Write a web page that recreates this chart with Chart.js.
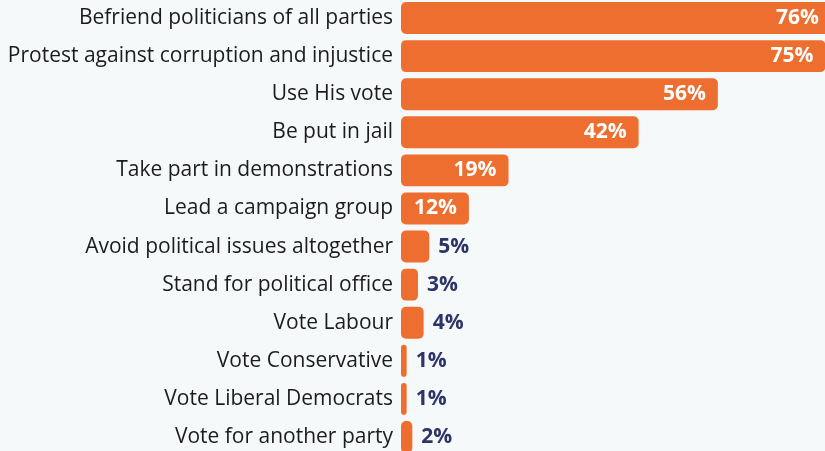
<!DOCTYPE html>
<html lang="en">
<head>
    <meta charset="UTF-8">
    <title>Political activities</title>
    <script src="https://cdn.jsdelivr.net/npm/chart.js"></script>
    <style>
        html, body {
            margin: 0;
            padding: 0;
            background: #f5f9fa;
            overflow: hidden;
        }
        #wrap {
            position: relative;
            width: 831px;
            height: 457px;
            margin-top: -1px;
        }
    </style>
</head>
<body>
    <div id="wrap"><canvas id="barChart"></canvas></div>

    <script>
        const categories = [
            "Befriend politicians of all parties",
            "Protest against corruption and injustice",
            "Use His vote",
            "Be put in jail",
            "Take part in demonstrations",
            "Lead a campaign group",
            "Avoid political issues altogether",
            "Stand for political office",
            "Vote Labour",
            "Vote Conservative",
            "Vote Liberal Democrats",
            "Vote for another party"
        ];
        const percentages = [76, 75, 56, 42, 19, 12, 5, 3, 4, 1, 1, 2];

        const barColor = "#ee6e2f";
        const textColor = "#1c1c1c";
        const insideColor = "#ffffff";
        const outsideColor = "#2d3468";

        // category names to the left of the bars, value labels on them
        const barLabels = {
            id: "barLabels",
            afterDatasetsDraw(chart) {
                const ctx = chart.ctx;
                const meta = chart.getDatasetMeta(0);
                const left = chart.chartArea.left;
                ctx.save();
                ctx.textBaseline = "middle";
                meta.data.forEach((bar, i) => {
                    ctx.font = "21px 'Open Sans', sans-serif";
                    ctx.fillStyle = textColor;
                    ctx.textAlign = "right";
                    ctx.fillText(categories[i], left - 8, bar.y);

                    const v = percentages[i];
                    const text = v + "%";
                    ctx.font = "bold 21px 'Open Sans', sans-serif";
                    if (v >= 10) {
                        ctx.fillStyle = insideColor;
                        ctx.textAlign = "right";
                        ctx.fillText(text, bar.x - 12, bar.y);
                    } else {
                        ctx.fillStyle = outsideColor;
                        ctx.textAlign = "left";
                        ctx.fillText(text, bar.x + 9, bar.y);
                    }
                });
                ctx.restore();
            }
        };

        new Chart(document.getElementById("barChart"), {
            type: "bar",
            data: {
                labels: categories,
                datasets: [{
                    data: percentages,
                    backgroundColor: barColor,
                    borderRadius: 5,
                    borderSkipped: false,
                    barPercentage: 0.84,
                    categoryPercentage: 1
                }]
            },
            options: {
                indexAxis: "y",
                responsive: true,
                maintainAspectRatio: false,
                animation: false,
                layout: { padding: { left: 401, top: 0, right: 0, bottom: 0 } },
                plugins: {
                    legend: { display: false },
                    tooltip: { enabled: false }
                },
                scales: {
                    x: { display: false, min: 0, max: 76 },
                    y: { display: false }
                }
            },
            plugins: [barLabels]
        });
    </script>
</body>
</html>
